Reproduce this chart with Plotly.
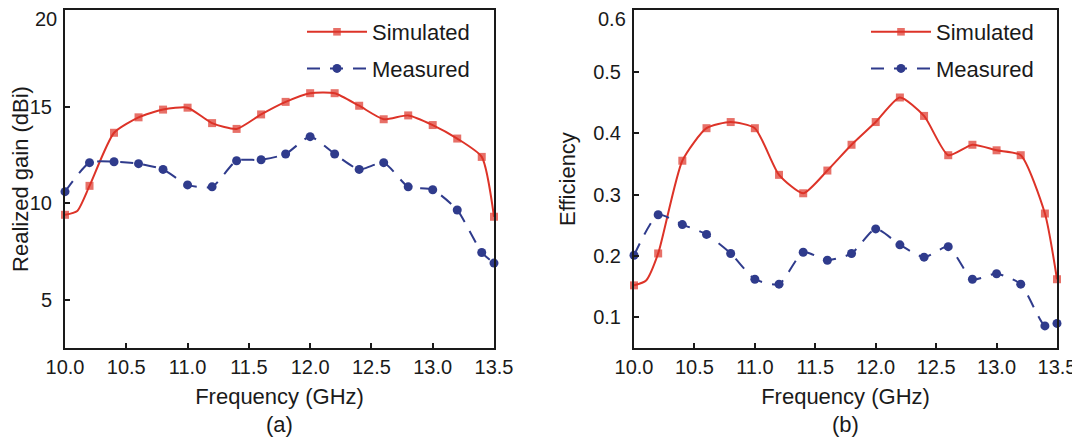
import plotly.graph_objects as go

# ---- data ----
freq = [10.0, 10.1, 10.2, 10.4, 10.6, 10.8, 11.0, 11.2, 11.4, 11.6, 11.8, 12.0,
        12.2, 12.4, 12.6, 12.8, 13.0, 13.2, 13.4, 13.5]
marker_on = [1, 0, 1, 1, 1, 1, 1, 1, 1, 1, 1, 1, 1, 1, 1, 1, 1, 1, 1, 1]

gain_sim = [9.4, 9.6, 10.9, 13.65, 14.45, 14.85, 14.95, 14.15, 13.85, 14.6, 15.25,
            15.7, 15.7, 15.05, 14.35, 14.55, 14.05, 13.35, 12.4, 9.3]

freq_meas = [10.0, 10.2, 10.4, 10.6, 10.8, 11.0, 11.2, 11.4, 11.6, 11.8, 12.0,
             12.2, 12.4, 12.6, 12.8, 13.0, 13.2, 13.4, 13.5]
gain_meas = [10.6, 12.1, 12.15, 12.05, 11.75, 10.95, 10.85, 12.2, 12.25, 12.55, 13.45,
             12.55, 11.75, 12.1, 10.85, 10.7, 9.65, 7.45, 6.9]

eff_sim = [0.152, 0.16, 0.204, 0.355, 0.408, 0.418, 0.408, 0.332, 0.302, 0.339, 0.381,
           0.418, 0.458, 0.428, 0.364, 0.381, 0.372, 0.364, 0.269, 0.162]
eff_meas = [0.201, 0.267, 0.251, 0.235, 0.204, 0.162, 0.154, 0.206, 0.193, 0.204, 0.244,
            0.218, 0.198, 0.215, 0.162, 0.171, 0.154, 0.086, 0.090]

x_ticks = [10.0, 10.5, 11.0, 11.5, 12.0, 12.5, 13.0, 13.5]
gain_ticks = [5, 10, 15, 20]
eff_ticks = [0.1, 0.2, 0.3, 0.4, 0.5, 0.6]

RED = "#dd3328"
BLUE = "#2f3b8c"
FONT = "Liberation Sans, Arial, sans-serif"
TXT = "#1a1a1a"

W, H = 1080, 439
OFF = 8  # page body margin offset of the figure on screen

def px(v):
    return (v - OFF) / W

def py(v):
    return 1 - (v - OFF) / H

sq_sizes = [8 if m else 0 for m in marker_on]

fig = go.Figure()

def add_pair(ysim, ymeas, xa, ya, leg):
    fig.add_trace(go.Scatter(
        x=freq, y=ysim, name="Simulated", mode="lines+markers",
        line=dict(color=RED, width=2, shape="spline", smoothing=0.6),
        marker=dict(symbol="square", size=sq_sizes, color=RED, line=dict(width=0)),
        xaxis=xa, yaxis=ya, legend=leg, legendgroup=leg + "a", cliponaxis=False))
    fig.add_trace(go.Scatter(
        x=freq_meas, y=ymeas, name="Measured", mode="lines+markers",
        line=dict(color=BLUE, width=2, shape="spline", smoothing=0.6, dash="13px,10px"),
        marker=dict(symbol="circle", size=9, color=BLUE, line=dict(width=0)),
        xaxis=xa, yaxis=ya, legend=leg, legendgroup=leg + "b", cliponaxis=False))

add_pair(gain_sim, gain_meas, "x", "y", "legend")
add_pair(eff_sim, eff_meas, "x2", "y2", "legend2")

TICK_FONT = dict(family=FONT, size=20, color=TXT)
axis_common = dict(
    showgrid=False, zeroline=False, showline=True, linecolor="#1a1a1a", linewidth=2,
    mirror=True, ticks="inside", ticklen=5, tickwidth=1.5, tickcolor="#1a1a1a",
    tickfont=TICK_FONT, automargin=False, ticklabeloverflow="allow",
)
TITLE_FONT = dict(family=FONT, size=22, color=TXT)
LEG_FONT = dict(family=FONT, size=22, color=TXT)

TOP = py(10)
BOT = py(348)
GAIN_RANGE = [2.5, 20.01]
EFF_RANGE = [0.05, 0.6005]

def fmt_gain(v):
    return f"{v:g}"

def fmt_eff(v):
    return f"{v:.1f}"

# the topmost tick label sits at the page edge; draw it as text nudged down
top_labels = [
    dict(text=fmt_gain(gain_ticks[-1]), x=0, xref="x domain", y=gain_ticks[-1], yref="y",
         xanchor="right", yanchor="middle", xshift=-6, yshift=-9, showarrow=False,
         font=TICK_FONT),
    dict(text=fmt_eff(eff_ticks[-1]), x=0, xref="x2 domain", y=eff_ticks[-1], yref="y2",
         xanchor="right", yanchor="middle", xshift=-6, yshift=-9, showarrow=False,
         font=TICK_FONT),
]

fig.update_layout(
    width=W, height=H,
    margin=dict(l=0, r=0, t=0, b=0, autoexpand=False),
    paper_bgcolor="white", plot_bgcolor="white",
    font=dict(family=FONT, color=TXT),
    showlegend=True,
    xaxis=dict(axis_common, domain=[px(65), px(494)], range=[10.0, 13.5],
               tickvals=x_ticks, ticktext=[f"{v:.1f}" for v in x_ticks], anchor="y",
               title=dict(text="Frequency (GHz)", font=TITLE_FONT, standoff=12)),
    yaxis=dict(axis_common, domain=[BOT, TOP], range=GAIN_RANGE, tickvals=gain_ticks,
               ticktext=[fmt_gain(v) for v in gain_ticks[:-1]] + [""],
               anchor="x", ticklabelstandoff=7,
               title=dict(text="Realized gain (dBi)", font=TITLE_FONT, standoff=22)),
    xaxis2=dict(axis_common, domain=[px(634), px(1057)], range=[10.0, 13.5],
                tickvals=x_ticks, ticktext=[f"{v:.1f}" for v in x_ticks], anchor="y2",
                title=dict(text="Frequency (GHz)", font=TITLE_FONT, standoff=12)),
    yaxis2=dict(axis_common, domain=[BOT, TOP], range=EFF_RANGE, tickvals=eff_ticks,
                ticktext=[fmt_eff(v) for v in eff_ticks[:-1]] + [""], anchor="x2",
                ticklabelstandoff=7,
                title=dict(text="Efficiency", font=TITLE_FONT, standoff=11)),
    legend=dict(x=px(475), y=py(11), xanchor="right", yanchor="top",
                bgcolor="rgba(0,0,0,0)", font=LEG_FONT,
                traceorder="grouped", tracegroupgap=5, itemwidth=60),
    legend2=dict(x=px(1039), y=py(11), xanchor="right", yanchor="top",
                 bgcolor="rgba(0,0,0,0)", font=LEG_FONT,
                 traceorder="grouped", tracegroupgap=5, itemwidth=60),
    annotations=top_labels + [
        dict(text="(a)", x=px((65 + 494) / 2), y=py(424), xref="paper", yref="paper",
             xanchor="center", yanchor="middle", showarrow=False, font=TITLE_FONT),
        dict(text="(b)", x=px((634 + 1057) / 2), y=py(424), xref="paper", yref="paper",
             xanchor="center", yanchor="middle", showarrow=False, font=TITLE_FONT),
    ],
)

fig.write_html("out.html")
